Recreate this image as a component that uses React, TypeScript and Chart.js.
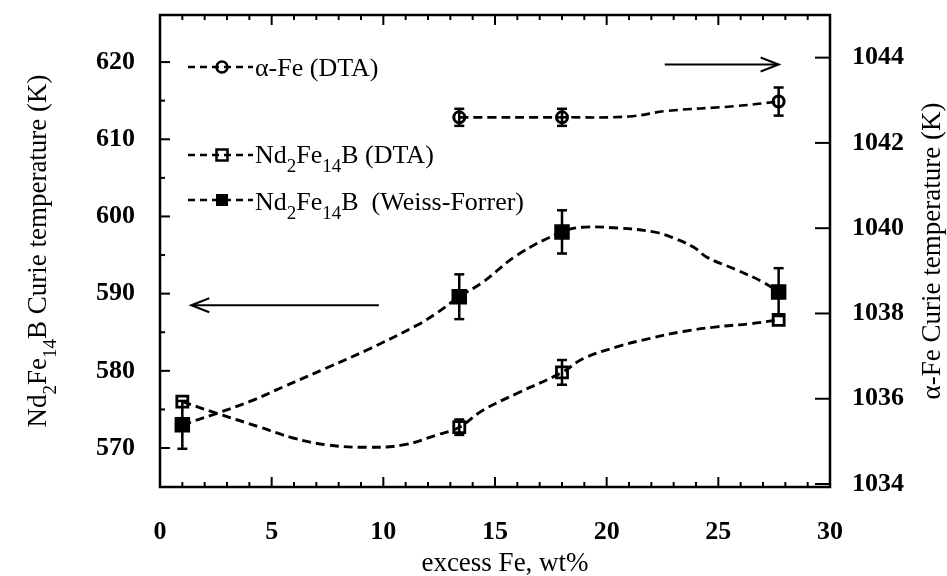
import React, { useEffect, useRef } from "react";
import { Chart, registerables } from "chart.js";

Chart.register(...registerables);

// ---------------- data ----------------
const excessFe = [1, 13.4, 18, 27.7];

const alphaFeX = [13.4, 18, 27.7];
const alphaFeTc = [1042.6, 1042.6, 1042.97];
const alphaFeErr = [0.2, 0.2, 0.33];

const ndDtaTc = [576.0, 572.7, 579.8, 586.6];
const ndDtaErr = [0, 1.0, 1.6, 0];

const ndWfTc = [573.0, 589.6, 598.0, 590.2];
const ndWfErr = [3.1, 2.9, 2.8, 3.1];

// dashed guide curves
const alphaFeCurveX = [13.4, 18, 21.0, 22.7, 25.7, 27.7];
const alphaFeCurveY = [1042.6, 1042.6, 1042.62, 1042.75, 1042.86, 1042.97];

const ndDtaCurveX = [1, 2.55, 4.48, 5.96, 7.48, 9.27, 10.9, 12.4, 13.4, 14.46, 16.0, 18, 18.96, 20.45, 21.94, 23.43, 24.93, 26.42, 27.7];
const ndDtaCurveY = [576.0, 574.5, 572.7, 571.3, 570.4, 570.1, 570.4, 571.7, 572.7, 574.9, 577.1, 579.8, 581.6, 583.1, 584.2, 585.1, 585.7, 586.1, 586.6];

const ndWfCurveX = [1, 2.55, 4.0, 5.5, 7.48, 9.27, 11.5, 12.4, 13.4, 14.46, 16.0, 18, 18.9, 20.5, 22.1, 23.0, 23.9, 24.5, 25.8, 27.0, 27.7];
const ndWfCurveY = [573.0, 574.5, 576.0, 577.9, 580.4, 582.7, 585.9, 587.5, 589.6, 591.5, 595.0, 598.0, 598.6, 598.5, 598.0, 597.2, 596.0, 594.7, 593.1, 591.5, 590.2];

// tick labels
const xTickLabels = [0, 5, 10, 15, 20, 25, 30];
const leftTickLabels = [570, 580, 590, 600, 610, 620];
const rightTickLabels = [1034, 1036, 1038, 1040, 1042, 1044];

// ---------------- styling ----------------
const FONT = "'Liberation Serif', 'Times New Roman', Times, serif";
const TICK_SIZE = 26;
const TITLE_SIZE = 27;

type Part = { t: string; sub?: boolean };

const ND_DTA: Part[] = [{ t: "Nd" }, { t: "2", sub: true }, { t: "Fe" }, { t: "14", sub: true }, { t: "B (DTA)" }];
const ND_WF: Part[] = [{ t: "Nd" }, { t: "2", sub: true }, { t: "Fe" }, { t: "14", sub: true }, { t: "B  (Weiss-Forrer)" }];
const ALPHA: Part[] = [{ t: "α-Fe (DTA)" }];
const LEFT_TITLE: Part[] = [{ t: "Nd" }, { t: "2", sub: true }, { t: "Fe" }, { t: "14", sub: true }, { t: "B Curie temperature (K)" }];
const RIGHT_TITLE: Part[] = [{ t: "α-Fe Curie temperature (K)" }];

function setFont(ctx: CanvasRenderingContext2D, size: number, sub?: boolean) {
  ctx.font = `${sub ? Math.round(size * 0.72) : size}px ${FONT}`;
}
function richWidth(ctx: CanvasRenderingContext2D, parts: Part[], size: number) {
  let w = 0;
  for (const p of parts) {
    setFont(ctx, size, p.sub);
    w += ctx.measureText(p.t).width;
  }
  return w;
}
function drawRich(ctx: CanvasRenderingContext2D, parts: Part[], x: number, y: number, size: number) {
  let cx = x;
  ctx.textAlign = "left";
  ctx.textBaseline = "alphabetic";
  for (const p of parts) {
    setFont(ctx, size, p.sub);
    ctx.fillText(p.t, cx, p.sub ? y + size * 0.36 : y);
    cx += ctx.measureText(p.t).width;
  }
}

function drawMarker(ctx: CanvasRenderingContext2D, kind: string, x: number, y: number) {
  ctx.save();
  ctx.lineWidth = 2.5;
  ctx.strokeStyle = "#000";
  ctx.fillStyle = "#000";
  ctx.setLineDash([]);
  if (kind === "circle") {
    ctx.beginPath();
    ctx.arc(x, y, 5.5, 0, Math.PI * 2);
    ctx.stroke();
  } else if (kind === "openSquare") {
    ctx.strokeRect(x - 5.5, y - 5.5, 11, 11);
  } else {
    ctx.fillRect(x - 6, y - 6, 12, 12);
  }
  ctx.restore();
}

function line(ctx: CanvasRenderingContext2D, x1: number, y1: number, x2: number, y2: number) {
  ctx.beginPath();
  ctx.moveTo(x1, y1);
  ctx.lineTo(x2, y2);
  ctx.stroke();
}

function arrow(ctx: CanvasRenderingContext2D, xTail: number, xHead: number, y: number) {
  const dir = xHead > xTail ? 1 : -1;
  ctx.save();
  ctx.lineWidth = 2;
  ctx.strokeStyle = "#000";
  ctx.setLineDash([]);
  line(ctx, xTail, y, xHead, y);
  ctx.beginPath();
  ctx.moveTo(xHead - dir * 18, y - 7);
  ctx.lineTo(xHead, y);
  ctx.lineTo(xHead - dir * 18, y + 7);
  ctx.stroke();
  ctx.restore();
}

const decorPlugin = {
  id: "decor",
  beforeDatasetsDraw(chart: any) {
    const ctx: CanvasRenderingContext2D = chart.ctx;
    const xs = chart.scales.x;
    const yl = chart.scales.y;
    const yr = chart.scales.y2;
    ctx.save();
    ctx.strokeStyle = "#000";
    ctx.lineWidth = 2.5;
    ctx.setLineDash([]);
    const bars = (xv: number[], yv: number[], ev: number[], sc: any) => {
      xv.forEach((x, i) => {
        const e = ev[i];
        if (!e) return;
        const px = xs.getPixelForValue(x);
        const t = sc.getPixelForValue(yv[i] + e);
        const b = sc.getPixelForValue(yv[i] - e);
        line(ctx, px, t, px, b);
        line(ctx, px - 5, t, px + 5, t);
        line(ctx, px - 5, b, px + 5, b);
      });
    };
    bars(alphaFeX, alphaFeTc, alphaFeErr, yr);
    bars(excessFe, ndWfTc, ndWfErr, yl);
    bars(excessFe, ndDtaTc, ndDtaErr, yl);
    ctx.restore();
  },
  afterDatasetsDraw(chart: any) {
    const ctx: CanvasRenderingContext2D = chart.ctx;
    const { left, right, top, bottom } = chart.chartArea;
    const xs = chart.scales.x;
    const yl = chart.scales.y;
    const yr = chart.scales.y2;
    ctx.save();
    ctx.strokeStyle = "#000";
    ctx.fillStyle = "#000";
    ctx.setLineDash([]);

    // inward tick marks
    ctx.lineWidth = 2;
    for (let v = 0; v <= 30; v++) {
      const px = xs.getPixelForValue(v);
      const L = v % 5 === 0 ? 10 : 5;
      line(ctx, px, bottom, px, bottom - L);
      line(ctx, px, top, px, top + L);
    }
    for (let v = leftTickLabels[0]; v <= leftTickLabels[leftTickLabels.length - 1]; v += 5) {
      const py = yl.getPixelForValue(v);
      const L = v % 10 === 0 ? 10 : 5;
      line(ctx, left, py, left + L, py);
    }
    rightTickLabels.forEach((v) => {
      const py = yr.getPixelForValue(v);
      line(ctx, right, py, right - 15, py);
    });

    // frame
    ctx.lineWidth = 2.5;
    ctx.strokeRect(left, top, right - left, bottom - top);

    // arrows pointing to the relevant axis
    arrow(ctx, xs.getPixelForValue(9.8), xs.getPixelForValue(1.4), yl.getPixelForValue(588.5));
    arrow(ctx, xs.getPixelForValue(22.6), xs.getPixelForValue(27.7), yr.getPixelForValue(1043.84));

    // legend
    const items = [
      { parts: ALPHA, marker: "circle", ly: top + 52, ty: top + 61 },
      { parts: ND_DTA, marker: "openSquare", ly: top + 140, ty: top + 148 },
      { parts: ND_WF, marker: "filledSquare", ly: top + 185, ty: top + 195 },
    ];
    items.forEach((it) => {
      ctx.save();
      ctx.lineWidth = 2.5;
      ctx.setLineDash([7, 5]);
      line(ctx, left + 28, it.ly, left + 93, it.ly);
      ctx.restore();
      drawMarker(ctx, it.marker, left + 62, it.ly);
      drawRich(ctx, it.parts, left + 95, it.ty, TICK_SIZE);
    });

    // axis titles
    setFont(ctx, TITLE_SIZE);
    ctx.textAlign = "center";
    ctx.textBaseline = "alphabetic";
    ctx.fillText("excess Fe, wt%", (left + right) / 2 + 10, 571);
    const cy = (top + bottom) / 2;
    ctx.save();
    ctx.translate(46, cy);
    ctx.rotate(-Math.PI / 2);
    const wl = richWidth(ctx, LEFT_TITLE, TITLE_SIZE);
    drawRich(ctx, LEFT_TITLE, -wl / 2, 0, TITLE_SIZE);
    ctx.restore();
    ctx.save();
    ctx.translate(940, cy);
    ctx.rotate(-Math.PI / 2);
    const wr = richWidth(ctx, RIGHT_TITLE, TITLE_SIZE);
    drawRich(ctx, RIGHT_TITLE, -wr / 2, 0, TITLE_SIZE);
    ctx.restore();

    ctx.restore();
  },
};

const toPts = (xs: number[], ys: number[]) => xs.map((x, i) => ({ x, y: ys[i] }));

export default function App() {
  const ref = useRef<HTMLCanvasElement | null>(null);

  useEffect(() => {
    document.body.style.margin = "0";
    const canvas = ref.current;
    if (!canvas) return;

    const curve = (data: any, axis: string, width: number) => ({
      type: "line",
      data,
      yAxisID: axis,
      borderColor: "#000",
      borderWidth: width,
      borderDash: [9, 5],
      pointRadius: 0,
      tension: 0.4,
      fill: false,
      order: 3,
    });
    const points = (data: any, axis: string, style: string, radius: number, filled: boolean, bw: number) => ({
      type: "line",
      data,
      yAxisID: axis,
      showLine: false,
      pointStyle: style,
      pointRadius: radius,
      pointBorderWidth: bw,
      pointBorderColor: "#000",
      pointBackgroundColor: filled ? "#000" : "rgba(0,0,0,0)",
      borderColor: "#000",
      order: 1,
    });

    const tickFont = { family: FONT, size: TICK_SIZE, weight: "bold" as const };
    const plain = (v: any) => String(v);

    const chart = new Chart(canvas, {
      type: "line",
      data: {
        datasets: [
          curve(toPts(alphaFeCurveX, alphaFeCurveY), "y2", 2.6),
          curve(toPts(ndDtaCurveX, ndDtaCurveY), "y", 2.9),
          curve(toPts(ndWfCurveX, ndWfCurveY), "y", 2.9),
          points(toPts(alphaFeX, alphaFeTc), "y2", "circle", 5.5, false, 3),
          points(toPts(excessFe, ndDtaTc), "y", "rect", 7.8, false, 2.8),
          points(toPts(excessFe, ndWfTc), "y", "rect", 9.2, true, 2.5),
        ] as any,
      },
      options: {
        animation: false,
        responsive: false,
        events: [],
        layout: { padding: { top: 15, left: 0, right: 0, bottom: 0 } },
        plugins: { legend: { display: false }, tooltip: { enabled: false }, title: { display: false } },
        scales: {
          x: {
            type: "linear",
            min: 0,
            max: 30,
            afterBuildTicks: (s: any) => {
              s.ticks = xTickLabels.map((v) => ({ value: v }));
            },
            afterFit: (s: any) => {
              s.height = 89;
              s.paddingLeft = 0;
              s.paddingRight = 0;
            },
            ticks: { font: tickFont, color: "#000", padding: 30, maxRotation: 0, callback: plain },
            grid: { display: false, drawTicks: false },
            border: { display: false },
          },
          y: {
            type: "linear",
            position: "left",
            min: 564.95,
            max: 626.1,
            afterBuildTicks: (s: any) => {
              s.ticks = leftTickLabels.map((v) => ({ value: v }));
            },
            afterFit: (s: any) => {
              s.width = 160;
              s.paddingTop = 0;
              s.paddingBottom = 0;
            },
            ticks: { font: tickFont, color: "#000", padding: 25, callback: plain },
            grid: { display: false, drawTicks: false },
            border: { display: false },
          },
          y2: {
            type: "linear",
            position: "right",
            min: 1033.93,
            max: 1045.0,
            afterBuildTicks: (s: any) => {
              s.ticks = rightTickLabels.map((v) => ({ value: v }));
            },
            afterFit: (s: any) => {
              s.width = 117;
              s.paddingTop = 0;
              s.paddingBottom = 0;
            },
            ticks: { font: tickFont, color: "#000", padding: 22, callback: plain },
            grid: { display: false, drawTicks: false },
            border: { display: false },
          },
        },
      } as any,
      plugins: [decorPlugin],
    });

    return () => chart.destroy();
  }, []);

  return (
    <div style={{ width: 947, height: 576, background: "#fff" }}>
      <canvas ref={ref} width={947} height={576} style={{ display: "block" }} />
    </div>
  );
}
